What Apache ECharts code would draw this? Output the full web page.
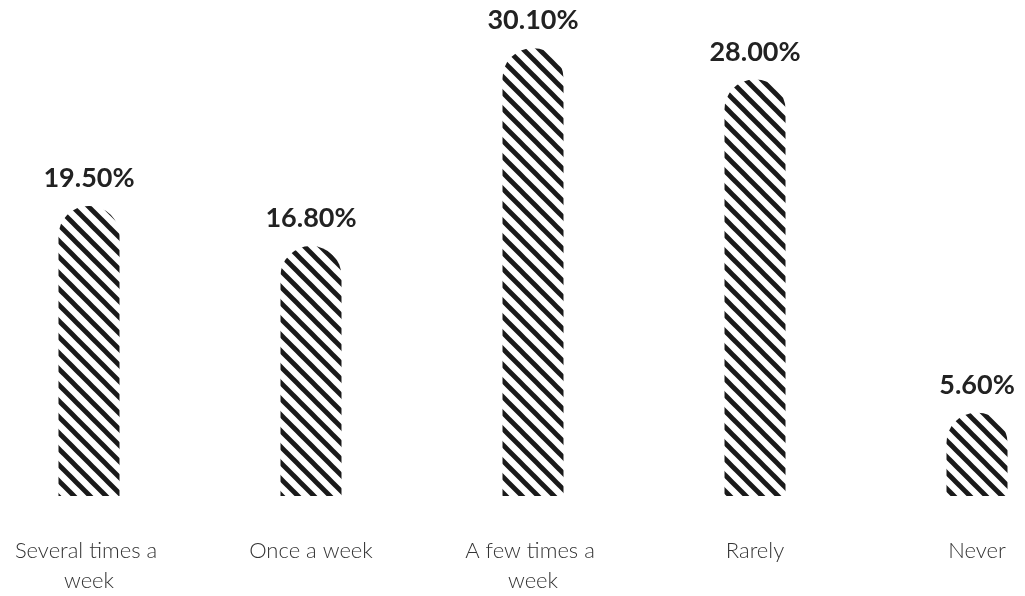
<!DOCTYPE html>
<html>
<head>
<meta charset="utf-8">
<style>
  html, body { margin: 0; padding: 0; background: #fff; overflow: hidden; }
  #chart { width: 1110px; height: 596px; margin-left: -22px; }
</style>
<script src="https://cdn.jsdelivr.net/npm/echarts@6/dist/echarts.min.js"></script>
</head>
<body>
<div id="chart"></div>
<script>
// Frequency categories and share of respondents (%)
const categories = ['Several times a week', 'Once a week', 'A few times a week', 'Rarely', 'Never'];
const shares = [19.5, 16.8, 30.1, 28.0, 5.6];

// Diagonal hatch tile used to fill the bars
function makeHatch() {
  const size = 16;
  const c = document.createElement('canvas');
  c.width = size; c.height = size;
  const ctx = c.getContext('2d');
  ctx.fillStyle = '#ffffff';
  ctx.fillRect(0, 0, size, size);
  ctx.strokeStyle = '#1a1a1a';
  ctx.lineWidth = 4.8;
  ctx.lineCap = 'square';
  for (const off of [-size, 0, size]) {
    ctx.beginPath();
    ctx.moveTo(off, 0);
    ctx.lineTo(off + size, size);
    ctx.stroke();
  }
  return c;
}

const chart = echarts.init(document.getElementById('chart'));
chart.setOption({
  animation: false,
  grid: { left: 0, right: 0, top: 20, bottom: 94, containLabel: false },
  xAxis: {
    type: 'category',
    data: categories,
    boundaryGap: true,
    axisLine: { show: false },
    axisTick: { show: false },
    axisLabel: {
      interval: 0,
      margin: 40,
      width: 172,
      overflow: 'break',
      lineHeight: 30,
      fontFamily: 'Lato',
      fontWeight: 300,
      fontSize: 22,
      color: '#333333',
      align: 'center'
    }
  },
  yAxis: {
    type: 'value',
    min: 0,
    max: 32,
    show: false,
    splitLine: { show: false }
  },
  series: [{
    type: 'bar',
    data: shares,
    barWidth: 61,
    itemStyle: {
      color: { image: makeHatch(), repeat: 'repeat' },
      borderRadius: [30, 30, 0, 0]
    },
    label: {
      show: true,
      position: 'top',
      distance: 14,
      formatter: p => p.value.toFixed(2) + '%',
      fontFamily: 'Lato',
      fontWeight: 'bold',
      fontSize: 27,
      color: '#222222'
    }
  }]
});
</script>
</body>
</html>
